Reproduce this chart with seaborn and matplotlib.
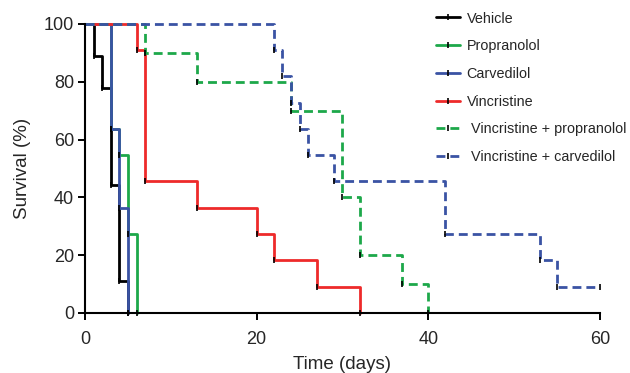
import pandas as pd
import seaborn as sns
import matplotlib.pyplot as plt
from matplotlib.lines import Line2D

# Kaplan-Meier steps (day, survival %)
groups = ['Vehicle', 'Propranolol', 'Carvedilol', 'Vincristine',
          ' Vincristine + propranolol', ' Vincristine + carvedilol']
vehicle_days = [0, 1, 2, 3, 4, 5]
vehicle_surv = [100, 88.9, 77.8, 44.4, 11.1, 0]
propranolol_days = [0, 3, 4, 5, 6]
propranolol_surv = [100, 63.6, 54.5, 27.3, 0]
carvedilol_days = [0, 3, 4, 5]
carvedilol_surv = [100, 63.6, 36.4, 0]
vincristine_days = [0, 6, 7, 13, 20, 22, 27, 32]
vincristine_surv = [100, 90.9, 45.5, 36.4, 27.3, 18.2, 9.1, 0]
vp_days = [0, 7, 13, 24, 30, 32, 37, 40]
vp_surv = [100, 90, 80, 70, 40, 20, 10, 0]
vc_days = [0, 22, 23, 24, 25, 26, 29, 42, 53, 55, 60]
vc_surv = [100, 90.9, 81.8, 72.7, 63.6, 54.5, 45.5, 27.3, 18.2, 9.1, 9.1]

all_days = [vehicle_days, propranolol_days, carvedilol_days,
            vincristine_days, vp_days, vc_days]
all_surv = [vehicle_surv, propranolol_surv, carvedilol_surv,
            vincristine_surv, vp_surv, vc_surv]

colors = ['#000000', '#1DA84A', '#3A53A4', '#EE2A2A', '#1DA84A', '#3A53A4']
dashes = ['', '', '', '', (3.2, 1.8), (3.2, 1.8)]

rows = []
for g, d, s in zip(groups, all_days, all_surv):
    for x, y in zip(d, s):
        rows.append({'group': g, 'day': x, 'surv': y})
df = pd.DataFrame(rows)

sns.set_style('ticks')
plt.rcParams['font.family'] = ['Liberation Sans', 'DejaVu Sans']

fig = plt.figure(figsize=(6.3, 3.73), dpi=100)
ax = fig.add_axes([0.135, 0.161, 0.817, 0.775])

sns.lineplot(data=df, x='day', y='surv', hue='group', style='group',
             hue_order=groups, style_order=groups,
             palette=dict(zip(groups, colors)),
             dashes=dict(zip(groups, dashes)),
             drawstyle='steps-post', estimator=None, sort=True,
             linewidth=2.0, legend=False, clip_on=False, ax=ax)

# black tick marks at every step
for d, s in zip(all_days, all_surv):
    ax.plot(d[1:], s[1:], ls='none', marker='|', color='k',
            ms=5, mew=1.2, clip_on=False, zorder=5)

ax.set_xlim(0, 60)
ax.set_ylim(0, 100)
ax.set_xticks([0, 20, 40, 60])
ax.set_yticks([0, 20, 40, 60, 80, 100])
ax.tick_params(labelsize=13, width=1.4, length=5, color='k', direction='out')
ax.tick_params(axis='x', pad=8)
ax.tick_params(axis='y', pad=3)
ax.set_xlabel('Time (days)', fontsize=13.5, labelpad=6)
ax.set_ylabel('Survival (%)', fontsize=13.5, labelpad=9)
for sp in ['left', 'bottom']:
    ax.spines[sp].set_linewidth(1.5)
    ax.spines[sp].set_color('k')
sns.despine(ax=ax)

handles = [Line2D([0], [0], color=c, lw=2.0,
                  ls='-' if ds == '' else (0, ds),
                  marker='|', markeredgecolor='k', ms=5, mew=1.2)
           for c, ds in zip(colors, dashes)]
fig.legend(handles, groups, loc='upper left',
           bbox_to_anchor=(0.672, 1.004), frameon=False, fontsize=10.4,
           handlelength=1.65, handletextpad=0.45, labelspacing=0.95,
           numpoints=1)

fig.savefig('out.png', dpi=100)
